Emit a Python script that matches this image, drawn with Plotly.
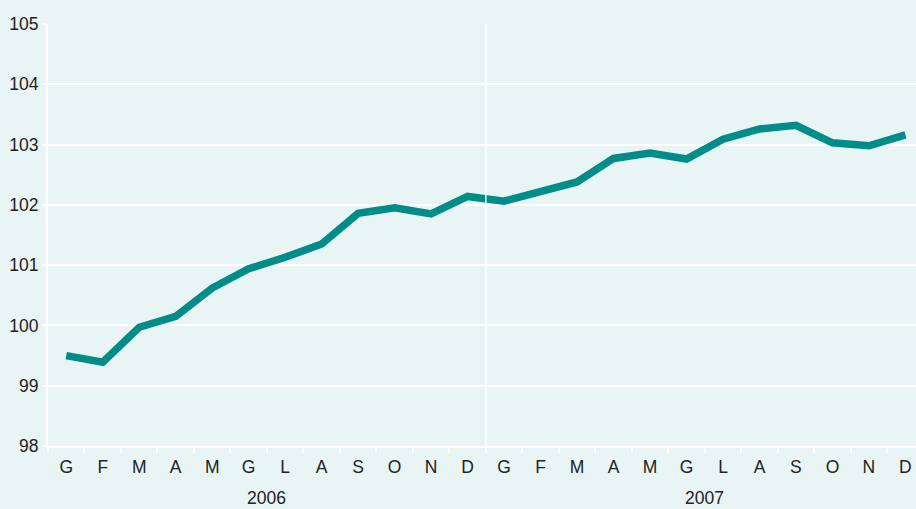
import plotly.graph_objects as go

months = ["G", "F", "M", "A", "M", "G", "L", "A", "S", "O", "N", "D",
          "G", "F", "M", "A", "M", "G", "L", "A", "S", "O", "N", "D"]
years = ["2006", "2007"]
values = [99.50, 99.39, 99.97, 100.15, 100.62, 100.94, 101.13, 101.35, 101.86, 101.95, 101.85, 102.14,
          102.06, 102.21, 102.38, 102.77, 102.86, 102.76, 103.09, 103.26, 103.32, 103.03, 102.98, 103.16]
y_ticks = [98, 99, 100, 101, 102, 103, 104, 105]

BG = "#E9F5F5"
LINE = "#008C89"
TXT = "#222222"
FONT = "Liberation Sans, Arial, Helvetica, sans-serif"
FS = 17.5

xpos = list(range(len(months)))
bounds = [i - 0.5 for i in range(len(months) + 1)]

fig = go.Figure()
fig.add_trace(go.Scatter(x=xpos, y=values, mode="lines",
                         line=dict(color=LINE, width=7.5), hoverinfo="skip"))

fig.add_shape(type="line", xref="x", yref="y", x0=11.5, x1=11.5, y0=98, y1=105,
              line=dict(color="white", width=1.5), layer="above")

for i, yr in enumerate(years):
    fig.add_annotation(x=5.5 + 12 * i, xref="x", y=-0.124, yref="paper", text=yr,
                       showarrow=False, font=dict(size=FS, color=TXT, family=FONT),
                       yanchor="middle")

fig.update_layout(
    width=916, height=509,
    margin=dict(l=48, r=0, t=24, b=63),
    paper_bgcolor=BG, plot_bgcolor=BG,
    showlegend=False,
    font=dict(family=FONT, size=FS, color=TXT),
    xaxis=dict(range=[-0.5, 23.29], tickmode="array", tickvals=xpos, ticktext=months,
               showgrid=False, zeroline=False, showline=True, linecolor="white", linewidth=2,
               ticks="outside", ticklen=4, tickcolor="rgba(0,0,0,0)",
               tickfont=dict(size=FS, color=TXT, family=FONT),
               minor=dict(tickmode="array", tickvals=bounds, ticks="outside", ticklen=5,
                          tickcolor="white", tickwidth=1.5, showgrid=False)),
    yaxis=dict(range=[98, 105], tickmode="array", tickvals=y_ticks,
               showgrid=True, gridcolor="white", gridwidth=1.5, zeroline=False,
               showline=True, linecolor="white", linewidth=2,
               ticks="outside", ticklen=4, tickcolor="white", tickwidth=1.5,
               tickfont=dict(size=FS, color=TXT, family=FONT)),
)

fig.write_html("out.html", config={"displayModeBar": False},
               post_script="document.body.style.margin='0';document.body.style.padding='0';"
                           "document.body.style.overflow='hidden';")
